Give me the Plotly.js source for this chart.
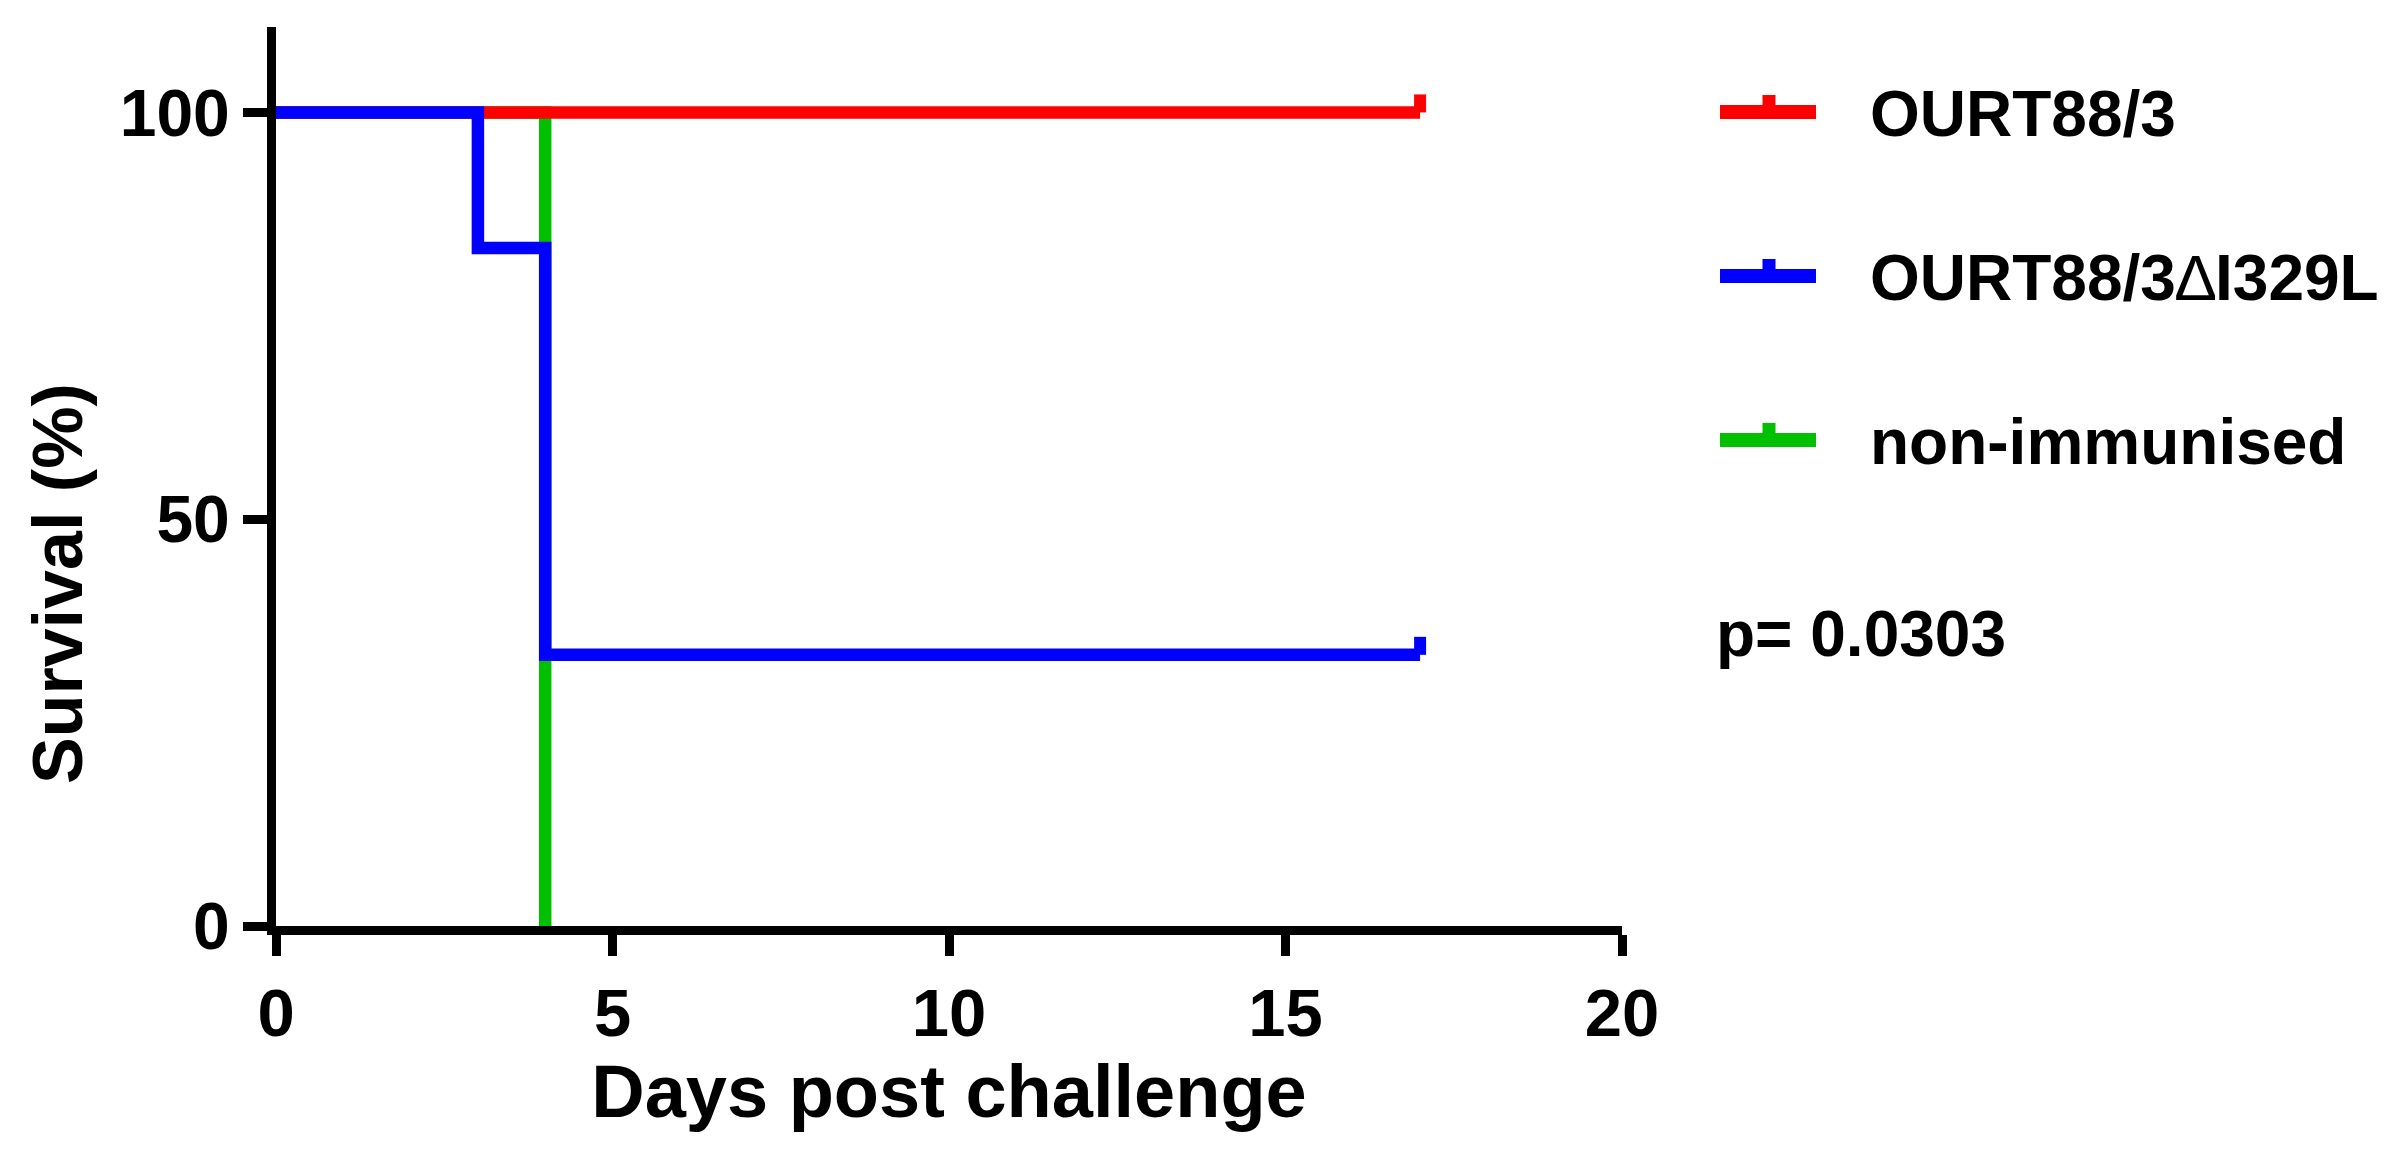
<!DOCTYPE html>
<html>
<head>
<meta charset="utf-8">
<script src="https://cdn.plot.ly/plotly-3.0.1.min.js"></script>
<style>html,body{margin:0;padding:0;background:#fff;}#chart{width:2396px;height:1170px;}</style>
</head>
<body>
<div id="chart"></div>
<script>
// ---- data ----
const groupNames = ['OURT88/3', 'OURT88/3\u2206I329L', 'non-immunised'];
const groupColors = ['#ff0000', '#0000ff', '#00c000'];
const ourtDays = [0, 17];
const ourtSurvival = [100, 100];
const deltaDays = [0, 3, 4, 17];
const deltaSurvival = [100, 83.33, 33.33, 33.33];
const naiveDays = [0, 4];
const naiveSurvival = [100, 0];
const censorDays = [17, 17];
const censorSurvival = [100, 33.33];
const censorColors = ['#ff0000', '#0000ff'];
const xTicks = [0, 5, 10, 15, 20];
const yTicks = [0, 50, 100];
const pValueText = 'p= 0.0303';
const xTitle = 'Days post challenge';
const yTitle = 'Survival (%)';

// ---- layout geometry ----
const W = 2396, Hh = 1170;
const L = 276, R = 774, T = 27, B = 244;
const PW = W - L - R, PH = Hh - T - B;
const px2x = px => (px - L) / PW;
const px2y = py => (Hh - B - py) / PH;
const FONT = 'Liberation Sans, Arial, Helvetica, sans-serif';

const lineW = 12.5;
const traces = [
  {x: naiveDays, y: naiveSurvival, name: groupNames[2], color: groupColors[2]},
  {x: ourtDays, y: ourtSurvival, name: groupNames[0], color: groupColors[0]},
  {x: deltaDays, y: deltaSurvival, name: groupNames[1], color: groupColors[1]}
].map(t => ({
  type: 'scatter', mode: 'lines', x: t.x, y: t.y, name: t.name,
  line: {shape: 'hv', color: t.color, width: lineW},
  showlegend: false, hoverinfo: 'x+y+name'
}));

const shapes = [];
// censor ticks, anchored at data positions
censorDays.forEach((d, i) => {
  shapes.push({
    type: 'line', xref: 'x', yref: 'y', ysizemode: 'pixel', yanchor: censorSurvival[i],
    x0: d, x1: d, y0: 0, y1: 18,
    line: {color: censorColors[i], width: 12}
  });
});

// custom legend
const annotations = [];
const legRows = [112, 276, 440];
const legOrder = [0, 1, 2];
legOrder.forEach((gi, r) => {
  const yc = legRows[r];
  shapes.push({type: 'line', xref: 'paper', yref: 'paper',
    x0: px2x(1720), x1: px2x(1816), y0: px2y(yc), y1: px2y(yc),
    line: {color: groupColors[gi], width: 14}});
  shapes.push({type: 'line', xref: 'paper', yref: 'paper',
    x0: px2x(1769), x1: px2x(1769), y0: px2y(yc), y1: px2y(yc - 17),
    line: {color: groupColors[gi], width: 13}});
  const label = groupNames[gi].replace('\u2206', '<span style="font-weight:normal">\u2206</span>');
  annotations.push({xref: 'paper', yref: 'paper', x: px2x(1868), y: px2y(yc + 2),
    xanchor: 'left', yanchor: 'middle', showarrow: false, text: label,
    font: {family: FONT, size: 64, color: '#000', weight: 700}});
});
annotations.push({xref: 'paper', yref: 'paper', x: px2x(1714), y: px2y(634),
  xanchor: 'left', yanchor: 'middle', showarrow: false, text: pValueText,
  font: {family: FONT, size: 64, color: '#000', weight: 700}});
// y-axis title
annotations.push({xref: 'paper', yref: 'paper', x: px2x(58), y: px2y(584),
  xanchor: 'center', yanchor: 'middle', showarrow: false, textangle: -90, text: yTitle,
  font: {family: FONT, size: 70, color: '#000', weight: 700}});

const layout = {
  width: W, height: Hh,
  paper_bgcolor: '#fff', plot_bgcolor: '#fff',
  margin: {l: L, r: R, t: T, b: B, pad: 0},
  showlegend: false,
  font: {family: FONT, color: '#000', weight: 700},
  xaxis: {
    range: [0, 20], tickvals: xTicks, ticktext: xTicks.map(String),
    showgrid: false, zeroline: false, showline: true, linecolor: '#000', linewidth: 9,
    ticks: 'outside', ticklen: 21, tickwidth: 9, tickcolor: '#000',
    tickfont: {family: FONT, size: 67, color: '#000', weight: 700},
    title: {text: xTitle, standoff: 18,
      font: {family: FONT, size: 74, color: '#000', weight: 700}}
  },
  yaxis: {
    range: [0, 110.5], tickvals: yTicks, ticktext: yTicks.map(String),
    showgrid: false, zeroline: false, showline: true, linecolor: '#000', linewidth: 9,
    ticks: 'outside', ticklen: 24, tickwidth: 9, tickcolor: '#000',
    tickfont: {family: FONT, size: 66, color: '#000', weight: 700}
  },
  shapes: shapes,
  annotations: annotations
};

Plotly.newPlot('chart', traces, layout, {displayModeBar: false, staticPlot: true});
</script>
</body>
</html>
